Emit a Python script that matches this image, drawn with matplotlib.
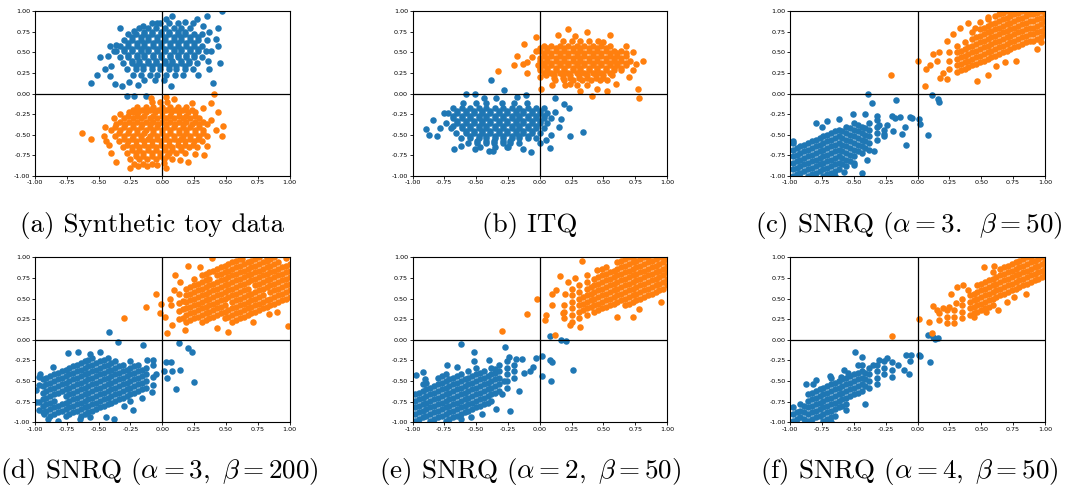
import matplotlib
matplotlib.use("Agg")
import matplotlib.pyplot as plt
import numpy as np

plt.rcParams['mathtext.fontset'] = 'cm'

BLUE = '#1f77b4'
ORANGE = '#ff7f0e'

# ---------------- data (values in hundredths) ----------------
# rows: (y, [x, ...]) ; cols: (x, [y, ...]) ; pts: (x, y)
A_BLUE_ROWS = [
    (86, [-8, -2, 5, 12]),
    (79, [-18, -11, -5, 2, 9, 15, 22]),
    (72, [-27, -21, -14, -8, -1, 5, 12, 18, 25, 31]),
    (65, [-30, -24, -17, -11, -4, 2, 9, 15, 22, 28, 35]),
    (58, [-33, -27, -20, -14, -7, -1, 6, 12, 19, 25, 31]),
    (51, [-36, -30, -24, -17, -11, -4, 2, 9, 15, 22, 28, 34]),
    (44, [-33, -27, -20, -14, -7, -1, 6, 12, 19, 25, 31]),
    (37, [-31, -24, -18, -11, -5, 2, 8, 15, 21, 27]),
    (30, [-28, -21, -15, -8, -2, 5, 11, 18, 24]),
    (23, [-23, -17, -10, -4, 3, 10, 16]),
    (16, [-14, -6, 1]),
]
A_BLUE_FILL = [
    (75, [-14, -8, -1, 5, 12, 18]),
    (68, [-24, -17, -11, -4, 2, 9, 15, 22, 28]),
    (61, [-27, -20, -14, -7, -1, 6, 12, 19, 25]),
    (54, [-30, -24, -17, -11, -4, 2, 9, 15, 22, 28]),
    (47, [-27, -20, -14, -7, -1, 6, 12, 19, 25]),
    (40, [-24, -18, -11, -5, 2, 8, 15, 21]),
    (33, [-21, -15, -8, -2, 5, 11, 18]),
]
A_BLUE_PTS = [(-56, 13), (-49, 44), (-51, 22), (-41, 58), (-36, 59), (-40, 33), (-41, 21),
              (-37, 11), (-32, 9), (-28, -3), (-22, -3), (-13, -3), (-26, 14), (-19, 10), (7, 9),
              (40, 13), (45, 37), (44, 57), (42, 66), (44, 79), (47, 100), (35, 94), (27, 90),
              (8, 94), (3, 90), (18, 87), (24, 86), (-4, 85), (-15, 82), (-22, 76), (37, 75),
              (38, 52), (36, 39), (28, 22), (37, 30), (-43, 46), (-38, 51), (-33, 80), (-45, 30),
              (32, 82)]
A_ORANGE_ROWS = [
    (-10, [-8, -2, 4]),
    (-16, [-20, -13, -7, 0, 6, 12, 19]),
    (-23, [-26, -19, -13, -6, 0, 7, 13, 20, 26]),
    (-30, [-30, -23, -17, -10, -4, 3, 9, 16, 22, 29]),
    (-37, [-36, -29, -23, -16, -10, -3, 3, 10, 16, 23, 29, 35]),
    (-44, [-40, -33, -26, -20, -13, -7, 0, 6, 13, 19, 26, 32]),
    (-51, [-37, -30, -23, -17, -10, -4, 3, 9, 16, 22, 29, 35]),
    (-58, [-34, -27, -21, -14, -8, -1, 5, 12, 18, 25, 31]),
    (-65, [-31, -24, -18, -11, -5, 2, 8, 15, 21, 27]),
    (-72, [-28, -21, -15, -8, -2, 5, 11, 18]),
    (-79, [-25, -18, -12, -5, 1, 8]),
    (-86, [-22, -15, -8]),
]
A_ORANGE_FILL = [
    (-20, [-23, -16, -10, -3, 3, 10, 16, 23]),
    (-27, [-27, -20, -14, -7, 0, 6, 13, 19, 26]),
    (-34, [-33, -26, -20, -13, -7, 0, 6, 13, 19, 26, 32]),
    (-41, [-37, -30, -23, -17, -10, -4, 3, 9, 16, 22, 29]),
    (-48, [-34, -27, -20, -14, -7, 0, 6, 13, 19, 26, 32]),
    (-55, [-30, -24, -17, -11, -4, 2, 9, 15, 22, 28]),
    (-62, [-28, -21, -14, -8, -1, 5, 12, 18, 24]),
    (-69, [-24, -18, -11, -5, 2, 8, 15]),
    (-76, [-21, -15, -8, -2, 4]),
]
A_ORANGE_PTS = [(-63, -48), (-56, -55), (-46, -52), (-44, -58), (-42, -63), (-40, -72), (-36, -83),
                (-33, -25), (-23, -23), (47, -51), (48, -39), (44, -23), (41, 0), (38, -11),
                (35, -64), (33, -75), (20, -83), (3, -90), (-25, -90), (-19, -88), (-12, -88),
                (3, -4), (-9, -5), (9, -7), (32, -17), (38, -32), (42, -44), (26, -73), (-4, -87),
                (1, -84), (-38, -30), (-45, -40), (14, -80), (23, -12)]

B_ORANGE_ROWS = [
    (64, [18, 25, 32, 39, 46]),
    (58, [3, 9, 16, 22, 29, 35, 42, 48, 55]),
    (52, [0, 6, 13, 19, 26, 32, 39, 45, 52, 58, 64]),
    (46, [3, 9, 16, 22, 29, 35, 42, 48, 55, 61, 68]),
    (40, [0, 6, 13, 19, 26, 32, 39, 45, 52, 58, 64, 71]),
    (34, [3, 9, 16, 22, 29, 35, 42, 48, 55, 61, 68]),
    (28, [0, 6, 13, 19, 26, 32, 39, 45, 52, 58, 64]),
    (22, [5, 11, 18, 24, 31, 37, 44, 50, 57]),
    (16, [12, 19, 26, 33, 40, 47, 53]),
    (10, [20, 29, 37]),
]
B_ORANGE_FILL = [
    (55, [0, 6, 13, 19, 26, 32, 39, 45, 52]),
    (49, [3, 9, 16, 22, 29, 35, 42, 48, 55, 61, 68]),
    (43, [0, 6, 13, 19, 26, 32, 39, 45, 52, 58, 64]),
    (37, [3, 9, 16, 22, 29, 35, 42, 48, 55, 61, 68]),
    (31, [0, 6, 13, 19, 26, 32, 39, 45, 52, 58, 64]),
    (25, [3, 9, 16, 22, 29, 35, 42, 48, 55]),
    (19, [11, 18, 24, 31, 37, 44, 50]),
]
B_ORANGE_PTS = [(-33, 27), (-20, 34), (-18, 45), (-12, 60), (-3, 69), (14, 71), (22, 78), (37, 75),
                (55, 71), (68, 57), (81, 40), (77, 5), (78, -5), (41, -3), (53, 3), (45, 5), (32, 3),
                (1, 5), (-10, 25), (-10, 38), (-3, 52), (-1, 35), (10, 10), (24, 12), (60, 12),
                (73, 28), (76, 36), (73, 50), (-6, 44), (-13, 36), (0, 20), (70, 20), (50, 62),
                (28, 70)]
B_BLUE_ROWS = [
    (-12, [-60, -50, -42, -30, -20, -10]),
    (-18, [-68, -61, -55, -48, -42, -35, -29, -22, -16, -9, -3, 3]),
    (-24, [-72, -65, -58, -52, -45, -39, -32, -26, -19, -13, -6, 0, 6]),
    (-30, [-68, -61, -55, -48, -42, -35, -29, -22, -16, -9, -3, 3, 9]),
    (-36, [-74, -65, -58, -52, -45, -39, -32, -26, -19, -13, -6, 0, 6]),
    (-42, [-70, -61, -55, -48, -42, -35, -29, -22, -16, -9, -3, 3]),
    (-48, [-66, -58, -52, -45, -39, -32, -26, -19, -13, -6, 0]),
    (-54, [-62, -55, -48, -42, -35, -29, -22, -16, -9, -3]),
    (-60, [-56, -49, -42, -36, -29, -23, -16]),
    (-65, [-47, -35, -26]),
]
B_BLUE_FILL = [
    (-21, [-65, -58, -52, -45, -39, -32, -26, -19, -13, -6, 0]),
    (-27, [-68, -61, -55, -48, -42, -35, -29, -22, -16, -9, -3, 3]),
    (-33, [-65, -58, -52, -45, -39, -32, -26, -19, -13, -6, 0]),
    (-39, [-68, -61, -55, -48, -42, -35, -29, -22, -16, -9, -3]),
    (-45, [-58, -52, -45, -39, -32, -26, -19, -13, -6]),
    (-51, [-55, -48, -42, -35, -29, -22, -16, -9]),
    (-57, [-49, -42, -36, -29, -23]),
]
B_BLUE_PTS = [(-89, -43), (-87, -50), (-84, -32), (-81, -51), (-75, -24), (-67, -67), (-58, 0),
              (-51, 0), (-38, 16), (-28, 4), (-11, -2), (12, -6), (19, -13), (23, -17), (34, -47),
              (24, -51), (8, -66), (-7, -71), (-37, -70), (-40, -70), (-51, -67), (-13, -67),
              (0, -60), (9, -50), (12, -23), (17, -31), (15, -41), (-34, -6), (-44, -6), (-18, -4),
              (-62, -64), (-78, -42), (-25, -65), (5, -56)]

C_ORANGE_COLS = [
    (25, [30, 40, 50]),
    (31, [26, 34, 42, 50, 58]),
    (37, [30, 38, 46, 54, 62]),
    (43, [34, 42, 50, 58, 66, 74]),
    (49, [38, 46, 54, 62, 70, 78]),
    (55, [42, 50, 58, 66, 74, 82, 90]),
    (61, [46, 54, 62, 70, 78, 86, 94]),
    (67, [50, 58, 66, 74, 82, 90, 98]),
    (73, [54, 62, 70, 78, 86, 94, 100]),
    (79, [58, 66, 74, 82, 90, 98]),
    (85, [62, 70, 78, 86, 94, 100]),
    (91, [64, 72, 80, 88, 96]),
    (97, [68, 76, 84, 92, 100]),
    (100, [72, 80, 88, 96]),
]
C_ORANGE_FILL = [
    (34, [28, 36, 44, 52]),
    (40, [32, 40, 48, 56]),
    (46, [36, 44, 52, 60, 68]),
    (52, [40, 48, 56, 64, 72, 80]),
    (58, [44, 52, 60, 68, 76, 84]),
    (64, [48, 56, 64, 72, 80, 88, 96]),
    (70, [52, 60, 68, 76, 84, 92, 100]),
    (76, [56, 64, 72, 80, 88, 96]),
    (82, [60, 68, 76, 84, 92, 100]),
    (88, [64, 72, 80, 88, 96]),
    (94, [66, 74, 82, 90, 98]),
]
C_ORANGE_PTS = [(-21, 22), (0, 40), (6, 9), (7, 30), (10, 35), (12, 48), (17, 50), (18, 19),
                (23, 17), (23, 64), (28, 72), (33, 80), (47, 15), (55, 22), (62, 33), (69, 38),
                (77, 39), (49, 87), (55, 93), (45, 80), (94, 54), (97, 62), (15, 40), (20, 25),
                (40, 85)]
C_BLUE_COLS = [
    (-98, [-100, -92, -84, -76, -68, -60]),
    (-92, [-96, -88, -80, -72, -64]),
    (-86, [-100, -92, -84, -76, -68, -60]),
    (-80, [-96, -88, -80, -72, -64, -56]),
    (-74, [-100, -92, -84, -76, -68, -60, -52]),
    (-68, [-96, -88, -80, -72, -64, -56, -48]),
    (-62, [-92, -84, -76, -68, -60, -52, -44]),
    (-56, [-88, -80, -72, -64, -56, -48, -40]),
    (-50, [-84, -76, -68, -60, -52, -44, -36]),
    (-44, [-72, -64, -56, -48, -40]),
    (-38, [-68, -60, -52, -44, -36]),
    (-32, [-56, -48, -40, -32]),
    (-26, [-52, -44]),
]
C_BLUE_FILL = [
    (-95, [-98, -90, -82, -74, -66]),
    (-89, [-94, -86, -78, -70, -62]),
    (-83, [-98, -90, -82, -74, -66, -58]),
    (-77, [-94, -86, -78, -70, -62, -54]),
    (-71, [-98, -90, -82, -74, -66, -58, -50]),
    (-65, [-94, -86, -78, -70, -62, -54, -46]),
    (-59, [-86, -78, -70, -62, -54, -46]),
    (-53, [-82, -74, -66, -58, -50, -42]),
    (-47, [-70, -62, -54, -46, -38]),
    (-41, [-66, -58, -50, -42]),
]
C_BLUE_PTS = [(-39, 0), (-36, -12), (-17, -8), (-41, -25), (-51, -25), (-62, -31), (-71, -33),
              (-80, -36), (-75, -40), (-98, -57), (-44, -96), (-50, -87), (11, -2), (16, -7),
              (17, -10), (8, -50), (2, -37), (1, -31), (-6, -29), (-9, -62), (-12, -49), (-19, -46),
              (-26, -49), (-20, -27), (-14, -28), (-30, -38), (-24, -38), (-32, -27), (-18, -30),
              (-10, -40), (-4, -30), (-65, -100), (-58, -95), (-40, -80), (-34, -70)]

D_ORANGE_COLS = [
    (13, [25, 35, 45, 55]),
    (19, [22, 30, 38, 46, 54, 62]),
    (25, [26, 34, 42, 50, 58, 66, 74]),
    (31, [22, 30, 38, 46, 54, 62, 70, 78]),
    (37, [26, 34, 42, 50, 58, 66, 74, 82]),
    (43, [30, 38, 46, 54, 62, 70, 78, 86]),
    (49, [26, 34, 42, 50, 58, 66, 74, 82, 90]),
    (55, [22, 30, 38, 46, 54, 62, 70, 78, 86, 94]),
    (61, [26, 34, 42, 50, 58, 66, 74, 82, 90, 98]),
    (67, [30, 38, 46, 54, 62, 70, 78, 86, 94]),
    (73, [34, 42, 50, 58, 66, 74, 82, 90, 98]),
    (79, [38, 46, 54, 62, 70, 78, 86, 94]),
    (85, [42, 50, 58, 66, 74, 82, 90, 98]),
    (91, [46, 54, 62, 70, 78, 86, 94]),
    (97, [50, 58, 66, 74, 82, 90]),
]
D_ORANGE_FILL = [
    (16, [27, 37, 47]),
    (22, [24, 32, 40, 48, 56, 64]),
    (28, [28, 36, 44, 52, 60, 68]),
    (34, [24, 32, 40, 48, 56, 64, 72, 80]),
    (40, [28, 36, 44, 52, 60, 68, 84]),
    (46, [32, 40, 48, 56, 64, 72, 80, 88]),
    (52, [28, 36, 52, 60, 68, 76, 84, 92]),
    (58, [24, 32, 40, 48, 56, 64, 72, 80, 88, 96]),
    (64, [28, 36, 44, 52, 60, 68, 76, 84, 92]),
    (70, [32, 40, 48, 56, 72, 80, 88, 96]),
    (76, [36, 44, 52, 60, 68, 76, 84, 92, 100]),
    (82, [40, 48, 64, 72, 80, 88, 96]),
    (88, [44, 52, 60, 68, 76, 84, 92, 100]),
    (94, [48, 56, 64, 72, 80, 88]),
    (100, [52, 60, 68, 76, 84, 92]),
]
D_ORANGE_PTS = [(-30, 27), (-13, 40), (-5, 55), (-2, 32), (-1, 44), (4, 8), (10, 79), (18, 12),
                (43, 14), (52, 9), (71, 21), (99, 17), (84, 31), (90, 34), (39, 99), (63, 98),
                (82, 99), (97, 99), (8, 18), (2, 28), (9, 60), (14, 70), (6, 50), (20, 90),
                (30, 88), (7, 42)]
D_BLUE_COLS = [
    (-97, [-45, -55, -75, -85]),
    (-91, [-46, -54, -62, -70, -78, -86]),
    (-85, [-42, -50, -58, -66, -74, -82, -90]),
    (-79, [-38, -46, -54, -62, -78, -86]),
    (-73, [-34, -42, -50, -58, -66, -74, -82, -90]),
    (-67, [-30, -38, -46, -54, -62, -70, -78, -86]),
    (-61, [-26, -34, -42, -50, -58, -66, -74, -82, -90]),
    (-55, [-22, -30, -38, -46, -54, -62, -70, -78, -86]),
    (-49, [-26, -34, -42, -50, -58, -66, -74, -82]),
    (-43, [-22, -30, -38, -46, -54, -62, -70, -78]),
    (-37, [-26, -34, -42, -50, -58, -66, -74]),
    (-31, [-30, -38, -46, -54, -62, -70]),
    (-25, [-26, -34, -42, -50, -58, -66, -74]),
    (-19, [-30, -38, -46, -54, -62]),
    (-13, [-34, -42, -50, -58]),
    (-7, [-25, -45, -55]),
]
D_BLUE_FILL = [
    (-94, [-48, -56, -64, -72, -80, -88]),
    (-88, [-44, -52, -60, -68, -76, -84, -92]),
    (-82, [-40, -48, -56, -64, -80, -88]),
    (-76, [-36, -44, -52, -60, -68, -76, -84, -92]),
    (-70, [-32, -40, -48, -56, -64, -72, -80, -88]),
    (-64, [-28, -36, -44, -52, -60, -68, -76, -84, -92]),
    (-58, [-24, -32, -40, -48, -56, -64, -72, -80, -88]),
    (-52, [-28, -36, -44, -52, -60, -68, -76, -84]),
    (-46, [-24, -32, -40, -48, -56, -64, -72, -80]),
    (-40, [-28, -36, -44, -52, -60, -68, -76]),
    (-34, [-32, -40, -48, -56, -64, -72]),
    (-28, [-36, -44, -52, -60, -68]),
    (-22, [-32, -40, -48, -56, -64]),
    (-16, [-36, -44, -52, -60]),
]
D_BLUE_PTS = [(-42, 10), (-35, -3), (-15, -6), (13, -4), (20, -10), (23, -15), (25, -51), (11, -60),
              (4, -46), (8, -38), (14, -37), (1, -38), (3, -27), (7, -27), (-5, -41), (-8, -63),
              (-23, -85), (-38, -96), (-44, -94), (-74, -16), (-66, -15), (-86, -33), (-96, -41),
              (-99, -61), (-90, -96), (-82, -98), (-65, -96), (-57, -94), (-12, -25), (-7, -31),
              (-49, -15), (-57, -17), (-99, -75), (-93, -90), (-30, -80), (-16, -70)]

E_ORANGE_COLS = [
    (19, [26, 34, 42]),
    (25, [22, 30, 38, 46, 54, 62]),
    (31, [26, 34, 42, 50, 58, 66]),
    (37, [30, 38, 46, 54, 62, 70, 78]),
    (43, [34, 42, 50, 58, 66, 74]),
    (49, [38, 46, 54, 62, 70, 78, 86]),
    (55, [42, 50, 58, 66, 74, 82]),
    (61, [46, 54, 62, 70, 78, 86, 94]),
    (67, [42, 50, 58, 66, 74, 82, 90, 98]),
    (73, [46, 54, 62, 70, 78, 86, 94, 100]),
    (79, [50, 58, 66, 74, 82, 90, 98]),
    (85, [54, 62, 70, 78, 86, 94, 100]),
    (91, [58, 66, 74, 82, 90, 98]),
    (97, [62, 70, 78, 86, 94, 100]),
    (100, [66, 74, 82, 90, 98]),
]
E_ORANGE_FILL = [
    (34, [36, 44, 52]),
    (40, [40, 48, 56, 64]),
    (46, [36, 44, 52, 60, 68, 76]),
    (52, [40, 48, 56, 64, 72, 80, 88]),
    (58, [44, 52, 60, 68, 76, 84]),
    (64, [48, 56, 64, 72, 80, 88, 96]),
    (70, [44, 52, 60, 68, 76, 84, 92, 100]),
    (76, [48, 56, 64, 72, 80, 88, 96]),
    (82, [52, 60, 68, 76, 84, 92, 100]),
    (88, [56, 64, 72, 80, 88, 96]),
    (94, [60, 68, 76, 84, 92, 100]),
]
E_ORANGE_PTS = [(-30, 11), (-10, 31), (-2, 49), (4, 24), (5, 30), (12, 6), (10, 56), (16, 77),
                (33, 96), (18, 33), (24, 18), (32, 16), (61, 28), (73, 28), (78, 37), (95, 46),
                (10, 42), (13, 60), (20, 55), (28, 75), (22, 70), (45, 85)]
E_BLUE_COLS = [
    (-98, [-98, -90, -82, -74, -66]),
    (-92, [-94, -86, -78, -70, -62, -54]),
    (-86, [-98, -90, -82, -74, -66, -58]),
    (-80, [-94, -86, -78, -70, -62, -54, -46]),
    (-74, [-98, -90, -82, -74, -66, -58, -50, -42]),
    (-68, [-94, -86, -78, -70, -62, -54, -46]),
    (-62, [-90, -82, -74, -66, -58, -50, -42]),
    (-56, [-86, -78, -70, -62, -54, -46, -38]),
    (-50, [-82, -74, -66, -58, -50, -42, -34]),
    (-44, [-78, -70, -62, -54, -46, -38]),
    (-38, [-74, -66, -58, -50, -42, -34]),
    (-32, [-62, -54, -46, -38, -30]),
    (-26, [-58, -50, -42, -34, -26]),
    (-20, [-46, -38, -30]),
]
E_BLUE_FILL = [
    (-95, [-96, -88, -80, -72, -64]),
    (-89, [-92, -84, -76, -68, -60, -52]),
    (-83, [-96, -88, -80, -72, -64, -56]),
    (-77, [-92, -84, -76, -68, -60, -52, -44]),
    (-71, [-96, -88, -80, -72, -64, -56, -48]),
    (-65, [-92, -84, -76, -68, -60, -52, -44]),
    (-59, [-88, -80, -72, -64, -56, -48]),
    (-53, [-84, -76, -68, -60, -52, -44]),
    (-47, [-80, -72, -64, -56, -48, -40]),
    (-41, [-76, -68, -60, -52, -44]),
    (-35, [-64, -56, -48, -40]),
]
E_BLUE_PTS = [(-62, -5), (-52, -15), (-52, -26), (-27, -9), (-24, -21), (-19, -23), (-14, -23),
              (-12, -40), (-16, -62), (-23, -86), (-5, -33), (-3, -22), (2, -20), (2, -44), (8, -24),
              (10, -27), (8, 5), (17, 0), (21, -2), (26, -37), (9, -50), (-97, -43), (-92, -39),
              (-90, -47), (-73, -31), (-65, -33), (-35, -35), (-54, -93), (-62, -96), (-34, -84),
              (-28, -50), (-8, -38), (-30, -66), (-45, -90), (-40, -25)]

F_ORANGE_COLS = [
    (17, [24, 32]),
    (23, [20, 28, 36]),
    (29, [20, 28, 36]),
    (35, [26, 34, 42, 50]),
    (41, [30, 38, 46, 54]),
    (47, [34, 42, 50, 58, 66]),
    (53, [38, 46, 54, 62, 70]),
    (59, [42, 50, 58, 66, 74, 82]),
    (65, [54, 62, 70, 78, 86]),
    (71, [58, 66, 74, 82, 90]),
    (77, [62, 70, 78, 86, 94]),
    (83, [66, 74, 82, 90, 98]),
    (89, [70, 78, 86, 94, 100]),
    (95, [74, 82, 90, 98]),
    (100, [78, 86, 94]),
]
F_ORANGE_FILL = [
    (44, [32, 40, 48, 56]),
    (50, [36, 44, 52, 60, 68]),
    (56, [40, 48, 56, 64, 72]),
    (62, [52, 60, 68, 76]),
    (68, [56, 64, 72, 80, 88]),
    (74, [60, 68, 76, 84, 92]),
    (80, [64, 72, 80, 88, 96]),
    (86, [68, 76, 84, 92, 100]),
    (92, [72, 80, 88, 96]),
    (98, [76, 84, 92, 100]),
]
F_ORANGE_PTS = [(-20, 5), (1, 25), (11, 8), (12, 41), (9, 21), (26, 56), (31, 64), (36, 66),
                (52, 88), (54, 34), (63, 36), (76, 52), (85, 56), (70, 46), (15, 36), (20, 38),
                (25, 40), (40, 60), (60, 90), (44, 28), (30, 45)]
F_BLUE_COLS = [
    (-98, [-98, -90, -82]),
    (-92, [-94, -86, -78]),
    (-86, [-98, -90, -82, -74, -66]),
    (-80, [-94, -86, -78, -70, -62]),
    (-74, [-98, -90, -82, -74, -66, -58]),
    (-68, [-94, -86, -78, -70, -62, -54, -46]),
    (-62, [-82, -74, -66, -58, -50]),
    (-56, [-78, -70, -62, -54, -46]),
    (-50, [-66, -58, -50, -42]),
    (-44, [-62, -54, -46, -38, -30]),
    (-38, [-58, -50, -42, -34]),
    (-32, [-54, -46, -38, -30]),
    (-26, [-42, -34, -26]),
]
F_BLUE_FILL = [
    (-95, [-96, -88]),
    (-89, [-96, -88, -80]),
    (-83, [-96, -88, -80, -72, -64]),
    (-77, [-92, -84, -76, -68, -60]),
    (-71, [-96, -88, -80, -72, -64, -56]),
    (-65, [-92, -84, -76, -68, -60, -52]),
    (-59, [-80, -72, -64, -56, -48]),
    (-53, [-68, -60, -52, -44]),
    (-47, [-64, -56, -48, -40]),
    (-41, [-56, -48, -40]),
]
F_BLUE_PTS = [(8, 6), (12, 4), (16, 2), (14, 1), (10, -27), (2, -20), (1, -19), (-5, -18), (-6, -26),
              (-7, -41), (-11, -37), (-20, -27), (-20, -36), (-9, -19), (-24, -22), (-49, -15),
              (-44, -21), (-47, -31), (-58, -36), (-41, -78), (-68, -100), (-88, -54), (-82, -54),
              (-80, -49), (-69, -44), (-15, -30), (-30, -25), (-35, -30), (-55, -40), (-60, -45),
              (-56, -85), (-20, -45)]

CAPTIONS = [
    "(a) Synthetic toy data",
    "(b) ITQ",
    r"(c) SNRQ ($\alpha=3.\;\;\beta=50$)",
    r"(d) SNRQ ($\alpha=3,\ \beta=200$)",
    r"(e) SNRQ ($\alpha=2,\ \beta=50$)",
    r"(f) SNRQ ($\alpha=4,\ \beta=50$)",
]
TICKS = [-1.00, -0.75, -0.50, -0.25, 0.00, 0.25, 0.50, 0.75, 1.00]


def from_rows(rows, pts):
    xs, ys = [], []
    for y, xl in rows:
        for x in xl:
            xs.append(x); ys.append(y)
    for x, y in pts:
        xs.append(x); ys.append(y)
    return np.array(xs) / 100.0, np.array(ys) / 100.0


def from_cols(cols, pts):
    xs, ys = [], []
    for x, yl in cols:
        for y in yl:
            xs.append(x); ys.append(y)
    for x, y in pts:
        xs.append(x); ys.append(y)
    return np.array(xs) / 100.0, np.array(ys) / 100.0


panels = [
    (from_rows(A_BLUE_ROWS + A_BLUE_FILL, A_BLUE_PTS),
     from_rows(A_ORANGE_ROWS + A_ORANGE_FILL, A_ORANGE_PTS)),
    (from_rows(B_BLUE_ROWS + B_BLUE_FILL, B_BLUE_PTS),
     from_rows(B_ORANGE_ROWS + B_ORANGE_FILL, B_ORANGE_PTS)),
    (from_cols(C_BLUE_COLS + C_BLUE_FILL, C_BLUE_PTS),
     from_cols(C_ORANGE_COLS + C_ORANGE_FILL, C_ORANGE_PTS)),
    (from_cols(D_BLUE_COLS + D_BLUE_FILL, D_BLUE_PTS),
     from_cols(D_ORANGE_COLS + D_ORANGE_FILL, D_ORANGE_PTS)),
    (from_cols(E_BLUE_COLS + E_BLUE_FILL, E_BLUE_PTS),
     from_cols(E_ORANGE_COLS + E_ORANGE_FILL, E_ORANGE_PTS)),
    (from_cols(F_BLUE_COLS + F_BLUE_FILL, F_BLUE_PTS),
     from_cols(F_ORANGE_COLS + F_ORANGE_FILL, F_ORANGE_PTS)),
]

W, H = 1071, 491
fig = plt.figure(figsize=(W / 100, H / 100), dpi=100)

lefts = [35, 412.5, 790.3]
tops = [11, 257.3]
aw, ah = 254.5, 165
cap_x = [[152, 530, 909], [159, 530, 909]]
cap_base = [232, 478]

for i, ((bx, by), (ox, oy)) in enumerate(panels):
    r, c = divmod(i, 3)
    l = lefts[c]
    t = tops[r]
    ax = fig.add_axes([l / W, (H - t - ah) / H, aw / W, ah / H])
    ax.scatter(bx, by, s=22, c=BLUE, linewidths=0, zorder=2)
    ax.scatter(ox, oy, s=22, c=ORANGE, linewidths=0, zorder=2)
    ax.axhline(0, color='black', lw=0.9, zorder=3)
    ax.axvline(0, color='black', lw=0.9, zorder=3)
    ax.set_xlim(-1, 1)
    ax.set_ylim(-1, 1)
    ax.set_xticks(TICKS)
    ax.set_yticks(TICKS)
    ax.set_xticklabels([f"{v:.2f}" for v in TICKS])
    ax.set_yticklabels([f"{v:.2f}" for v in TICKS])
    ax.tick_params(labelsize=4.6, length=2, width=0.6, pad=1.2)
    for sp in ax.spines.values():
        sp.set_linewidth(0.8)
    fig.text(cap_x[r][c] / W, 1 - cap_base[r] / H, CAPTIONS[i], ha='center', va='baseline',
             fontsize=19.5, family='cmr10')

fig.savefig("out.png", dpi=100)
